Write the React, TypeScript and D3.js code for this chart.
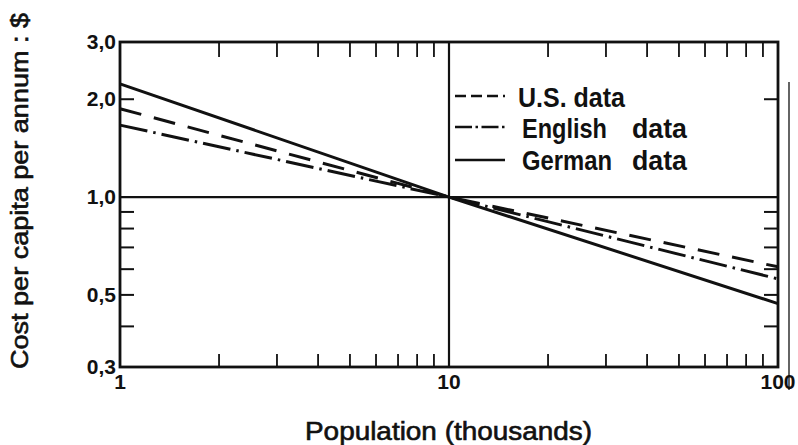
import React from "react";
import * as d3 from "d3";

const populations = [1, 10, 100];
const usData = [1.87, 1.0, 0.61];
const englishData = [1.665, 1.0, 0.56];
const germanData = [2.23, 1.0, 0.47];

const xMinorTicks = [2, 3, 4, 5, 6, 7, 8, 9, 20, 30, 40, 50, 60, 70, 80, 90];
const yMinorTicks = [2.0, 0.9, 0.8, 0.7, 0.6, 0.5, 0.4];
const yLabelValues = [3.0, 2.0, 1.0, 0.5, 0.3];
const yLabelTexts = ["3,0", "2,0", "1,0", "0,5", "0,3"];
const xLabelValues = [1, 10, 100];
const xLabelTexts = ["1", "10", "100"];

const seriesNames = ["U.S. data", "English", "German"];

const W = 798;
const H = 445;
const L = 120, R = 778, T = 42, B = 367;

export default function App() {
  const x = d3.scaleLog().domain([1, 100]).range([L, R]);
  const y = d3.scaleLog().domain([0.3, 3]).range([B, T]);
  const line = d3
    .line<number>()
    .x((_, i) => x(populations[i]))
    .y((d) => y(d));

  const font = "'Liberation Sans', Arial, Helvetica, sans-serif";
  const ink = "#111";

  const series = [
    { values: usData, dash: "22 13" },
    { values: englishData, dash: "28 6 2.5 6" },
    { values: germanData, dash: "" },
  ];

  const legendY = [96, 127, 160];
  const legendDash = ["11 5", "17 3.5 2.5 3.5", ""];

  const legendText = (tx: number, ty: number, s: string, w: number) => (
    <text
      x={tx}
      y={ty}
      fontFamily={font}
      fontWeight="bold"
      fontSize={25}
      fill={ink}
      textLength={w}
      lengthAdjust="spacingAndGlyphs"
      transform={`translate(0,${ty}) scale(1,1.12) translate(0,${-ty})`}
    >
      {s}
    </text>
  );

  return (
    <svg
      width={W}
      height={H}
      style={{ position: "absolute", left: 0, top: 0, background: "#fff" }}
    >
      <rect x={0} y={0} width={W} height={H} fill="#fff" />
      {/* reference lines */}
      <line x1={x(10)} x2={x(10)} y1={T} y2={B} stroke={ink} strokeWidth={2.2} />
      <line x1={L} x2={R} y1={y(1)} y2={y(1)} stroke={ink} strokeWidth={2.2} />

      {/* x minor ticks top and bottom */}
      {xMinorTicks.map((v) => (
        <g key={"xt" + v}>
          <line x1={x(v)} x2={x(v)} y1={T} y2={T + 15} stroke={ink} strokeWidth={1.8} />
          <line x1={x(v)} x2={x(v)} y1={B} y2={B - 13} stroke={ink} strokeWidth={1.8} />
        </g>
      ))}
      {/* y ticks left and right */}
      {yMinorTicks.map((v) => (
        <g key={"yt" + v}>
          <line x1={L} x2={L + 14} y1={y(v)} y2={y(v)} stroke={ink} strokeWidth={2} />
          <line x1={R} x2={R - 14} y1={y(v)} y2={y(v)} stroke={ink} strokeWidth={2} />
        </g>
      ))}

      {/* data lines */}
      {series.map((s, i) => (
        <path
          key={"s" + i}
          d={line(s.values) || ""}
          fill="none"
          stroke={ink}
          strokeWidth={3}
          strokeDasharray={s.dash || undefined}
        />
      ))}

      {/* frame */}
      <rect x={L} y={T} width={R - L} height={B - T} fill="none" stroke={ink} strokeWidth={2.8} />

      {/* page edge line */}
      <line x1={789} x2={789} y1={82} y2={390} stroke={ink} strokeWidth={1.3} />

      {/* y labels */}
      {yLabelValues.map((v, i) => (
        <text
          key={"yl" + v}
          x={116}
          y={y(v) + 7}
          textAnchor="end"
          fontFamily={font}
          fontWeight="bold"
          fontSize={21}
          fill={ink}
        >
          {yLabelTexts[i]}
        </text>
      ))}
      {/* x labels */}
      {xLabelValues.map((v, i) => (
        <text
          key={"xl" + v}
          x={x(v)}
          y={389}
          textAnchor="middle"
          fontFamily={font}
          fontWeight="bold"
          fontSize={21}
          fill={ink}
        >
          {xLabelTexts[i]}
        </text>
      ))}

      {/* legend */}
      {legendY.map((ly, i) => (
        <line
          key={"lg" + i}
          x1={455}
          x2={505}
          y1={ly}
          y2={ly}
          stroke={ink}
          strokeWidth={2.6}
          strokeDasharray={legendDash[i] || undefined}
        />
      ))}
      {legendText(518, 107, seriesNames[0], 107)}
      {legendText(522, 138, seriesNames[1], 85)}
      {legendText(632, 138, "data", 55)}
      {legendText(522, 170, seriesNames[2], 90)}
      {legendText(632, 170, "data", 55)}

      {/* axis titles */}
      <text
        x={305}
        y={440}
        fontFamily={font}
        fontSize={25}
        fill={ink}
        stroke={ink}
        strokeWidth={0.6}
        textLength={287}
        lengthAdjust="spacingAndGlyphs"
      >
        Population (thousands)
      </text>
      <text
        transform="translate(28,191) rotate(-90)"
        textAnchor="middle"
        fontFamily={font}
        fontSize={23}
        fill={ink}
        stroke={ink}
        strokeWidth={0.6}
        textLength={356}
        lengthAdjust="spacingAndGlyphs"
      >
        Cost per capita per annum : $
      </text>
    </svg>
  );
}
